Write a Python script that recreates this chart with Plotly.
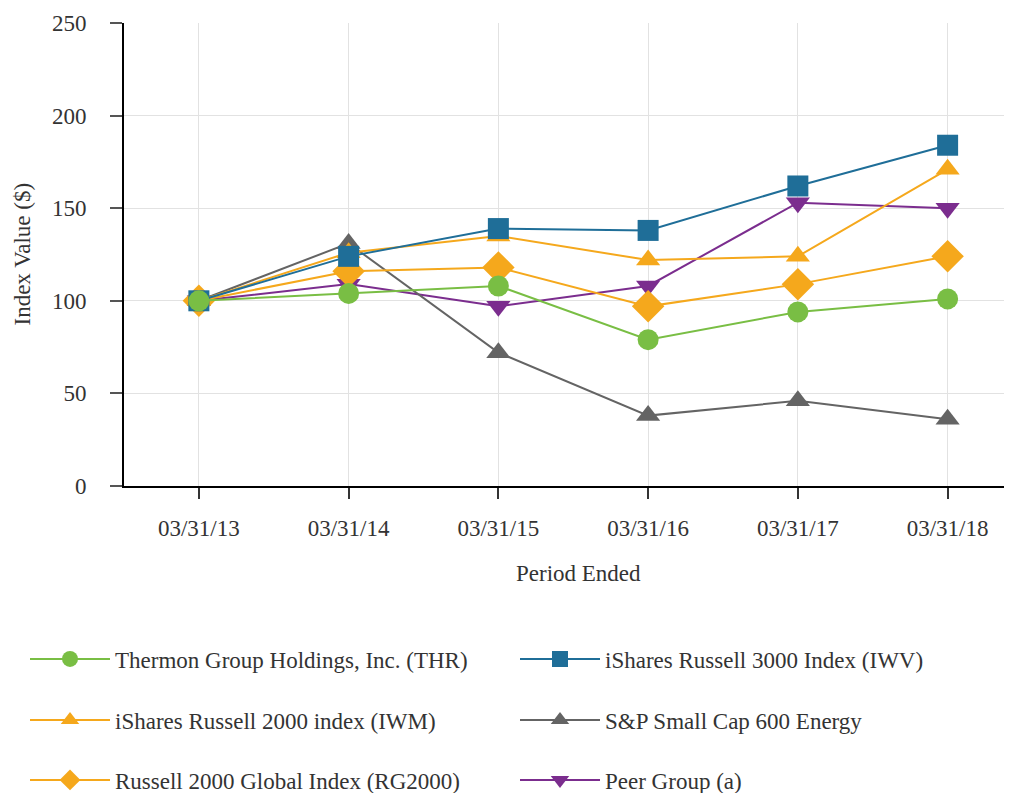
import plotly.graph_objects as go

periods = ["03/31/13", "03/31/14", "03/31/15", "03/31/16", "03/31/17", "03/31/18"]

thr = [100, 104, 108, 79, 94, 101]
iwv = [100, 124, 139, 138, 162, 184]
iwm = [100, 126, 135, 122, 124, 171]
sp600_energy = [100, 131, 72, 38, 46, 36]
rg2000 = [100, 116, 118, 97, 109, 124]
peer = [100, 109, 97, 108, 153, 150]

names = [
    "Thermon Group Holdings, Inc. (THR)",
    "iShares Russell 3000 Index (IWV)",
    "iShares Russell 2000 index (IWM)",
    "S&P Small Cap 600 Energy",
    "Russell 2000 Global Index (RG2000)",
    "Peer Group (a)",
]
x_title = "Period Ended"
y_title = "Index Value ($)"

FONT = "Liberation Serif"
TXT = "#333333"

# (values, name, color, symbol, size, legend id) - drawn bottom to top
series = [
    (peer, names[5], "#7B2D8E", "triangle-down", 21, "legend6"),
    (sp600_energy, names[3], "#646464", "triangle-up", 21, "legend4"),
    (iwm, names[2], "#F5A81C", "triangle-up", 21, "legend3"),
    (rg2000, names[4], "#F5A81C", "diamond", 25, "legend5"),
    (iwv, names[1], "#1F6E98", "square", 21, "legend2"),
    (thr, names[0], "#79BE44", "circle", 21, "legend"),
]

fig = go.Figure()
for vals, name, color, sym, size, lg in series:
    fig.add_trace(go.Scatter(
        x=periods, y=vals, name=name, mode="lines+markers",
        line=dict(color=color, width=2),
        marker=dict(color=color, symbol=sym, size=size),
        legend=lg,
    ))

# the page draws the figure 8px in from the top-left corner
W, H = 1004, 785
OFF = 8
ML, MT, MB = 116, 15, 307
PW, PH = W - ML, H - MT - MB

legend_pos = {
    "legend": (17, 659),
    "legend2": (507, 659),
    "legend3": (17, 720),
    "legend4": (507, 720),
    "legend5": (17, 780),
    "legend6": (507, 780),
}
legend_layout = {}
for key, (lx, ly) in legend_pos.items():
    legend_layout[key] = dict(
        x=lx / W, y=1 - (ly - OFF) / H, xref="container", yref="container",
        xanchor="left", yanchor="middle",
        font=dict(family=FONT, size=23, color=TXT),
        bgcolor="rgba(0,0,0,0)", itemwidth=80,
    )

fig.update_layout(
    width=W, height=H,
    margin=dict(l=ML, r=0, t=MT, b=MB, autoexpand=False),
    paper_bgcolor="white", plot_bgcolor="white",
    font=dict(family=FONT, size=23, color=TXT),
    showlegend=True,
    **legend_layout,
)

# axis titles as text annotations next to the axes
fig.add_annotation(
    text=y_title, xref="paper", yref="paper",
    x=(22 - OFF - ML) / PW, y=0.5, xanchor="center", yanchor="middle",
    textangle=-90, showarrow=False,
    font=dict(family=FONT, size=23, color=TXT),
)
fig.add_annotation(
    text=x_title, xref="paper", yref="paper",
    x=(578 - OFF - ML) / PW, y=-(573 - OFF - (MT + PH)) / PH,
    xanchor="center", yanchor="middle", showarrow=False,
    font=dict(family=FONT, size=23, color=TXT),
)

fig.update_xaxes(
    type="category", range=[-0.5, 5.43],
    showline=True, linecolor="black", linewidth=2,
    ticks="outside", ticklen=11, tickcolor="#333333", tickwidth=1.5,
    ticklabelstandoff=9, tickangle=0,
    showgrid=True, gridcolor="#e2e2e2", gridwidth=1,
    tickfont=dict(family=FONT, size=23, color=TXT),
    zeroline=False, automargin=False,
)
fig.update_yaxes(
    range=[0, 250], dtick=50,
    showline=True, linecolor="black", linewidth=2,
    ticks="outside", ticklen=12, tickcolor="#555555", tickwidth=1.5,
    ticklabelstandoff=19,
    showgrid=True, gridcolor="#e2e2e2", gridwidth=1,
    tickfont=dict(family=FONT, size=23, color=TXT),
    zeroline=False, automargin=False,
)

fig.write_html("out.html")
